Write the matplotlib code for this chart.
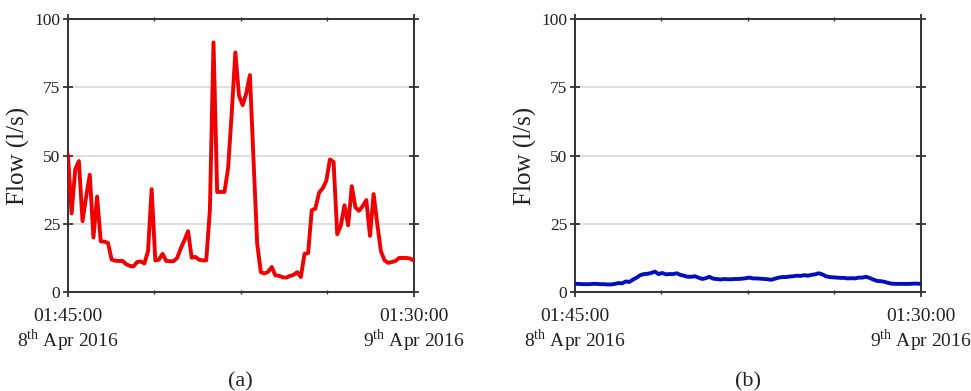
import numpy as np
import pandas as pd
import matplotlib
matplotlib.use("Agg")
import matplotlib.pyplot as plt
import matplotlib.dates as mdates

plt.rcParams["font.family"] = ["Liberation Serif", "DejaVu Serif"]
plt.rcParams["mathtext.fontset"] = "custom"
plt.rcParams["mathtext.rm"] = "Liberation Serif"

# -------------------------
# Data (15 min samples)
# -------------------------
times = pd.date_range("2016-04-08 01:45", "2016-04-09 01:30", freq="15min")

flow_a = [
    50, 28.8, 45, 48, 26, 35, 43, 20, 35, 18.6,
    18.5, 18, 11.9, 11.5, 11.4, 11.4, 10.2, 9.6, 9.4, 11,
    11.2, 10.5, 15, 37.7, 11.6, 11.9, 14, 11.4, 11.3, 11.3,
    12.5, 16, 19, 22.3, 12.6, 12.9, 11.9, 11.6, 11.6, 30,
    91.5, 36.7, 36.7, 36.7, 45.3, 65.5, 87.8, 72, 68.5, 72.8,
    79.5, 48.3, 17.7, 7.3, 6.8, 7.4, 9.2, 6.1, 6, 5.4,
    5.3, 5.9, 6.3, 7.3, 5.5, 14, 14.3, 30, 30.6, 36.4,
    38, 40.8, 48.6, 47.7, 21.2, 24.5, 31.8, 24.5, 38.8, 31,
    29.8, 31.5, 33.7, 20.6, 35.9, 25, 15, 11.6, 10.7, 11,
    11.4, 12.5, 12.5, 12.5, 12.3, 11.6,
]

flow_b = [
    3.0, 3.0, 2.9, 2.9, 2.9, 3.0, 3.0, 2.9, 2.9, 2.8,
    2.8, 3.0, 3.3, 3.2, 3.9, 3.7, 4.6, 5.3, 6.2, 6.6,
    6.7, 7.0, 7.5, 6.6, 7.0, 6.5, 6.6, 6.6, 6.9, 6.3,
    6.0, 5.6, 5.6, 5.8, 5.3, 4.8, 5.1, 5.6, 4.9, 4.8,
    4.6, 4.8, 4.7, 4.7, 4.8, 4.8, 4.9, 5.1, 5.3, 5.0,
    5.0, 4.9, 4.8, 4.7, 4.5, 4.9, 5.3, 5.5, 5.5, 5.7,
    5.8, 6.0, 5.9, 6.2, 6.0, 6.3, 6.5, 6.9, 6.5, 5.8,
    5.5, 5.4, 5.3, 5.2, 5.2, 5.0, 5.1, 5.0, 5.3, 5.3,
    5.6, 5.2, 4.6, 4.1, 4.0, 3.8, 3.4, 3.1, 3.0, 3.0,
    3.0, 3.0, 3.0, 3.1, 3.1, 3.0,
]

y_ticks = [0, 25, 50, 75, 100]
x_labels = ["01:45:00\n8$^{\\rm th}$ Apr 2016", "01:30:00\n9$^{\\rm th}$ Apr 2016"]
captions = ["(a)", "(b)"]

# -------------------------
# Figure
# -------------------------
fig = plt.figure(figsize=(9.71, 3.91), dpi=100)
ax_a = fig.add_axes([0.070, 0.253, 0.356, 0.698])
ax_b = fig.add_axes([0.592, 0.253, 0.356, 0.698])

spine_col = "#333333"
x0 = mdates.date2num(times[0])
x1 = mdates.date2num(times[-1])

for ax, vals, col, lw, cap in [
    (ax_a, flow_a, "#f00000", 2.8, captions[0]),
    (ax_b, flow_b, "#0010c0", 2.8, captions[1]),
]:
    ax.plot(times, vals, color=col, linewidth=lw, zorder=3)

    ax.set_xlim(times[0], times[-1])
    ax.set_ylim(0, 100)
    ax.set_yticks(y_ticks)
    ax.set_yticklabels([str(v) for v in y_ticks], fontsize=12.5)

    ax.set_xticks([x0, x1])
    ax.set_xticklabels(x_labels, fontsize=14, linespacing=1.1)
    ax.set_xticks(np.linspace(x0, x1, 5)[1:-1], minor=True)

    for v in y_ticks[1:-1]:
        ax.axhline(v, color="#dcdcdc", linewidth=1.3, zorder=1)

    for s in ax.spines.values():
        s.set_color(spine_col)
        s.set_linewidth(1.4)

    ax.tick_params(axis="both", which="major", direction="inout",
                   length=7, width=1.3, color=spine_col,
                   top=True, right=True, labelcolor="#222222")
    ax.tick_params(axis="y", which="major", pad=2)
    ax.tick_params(axis="x", which="major", pad=8)
    ax.tick_params(axis="x", which="minor", direction="inout",
                   length=3, width=1.0, color=spine_col, top=True)

    ax.set_ylabel("Flow (l/s)", fontsize=18, labelpad=3, color="#222222")
    ax.text(0.5, -0.33, cap, transform=ax.transAxes, ha="center",
            va="center", fontsize=16, color="#222222")

fig.savefig("out.png", dpi=100)
